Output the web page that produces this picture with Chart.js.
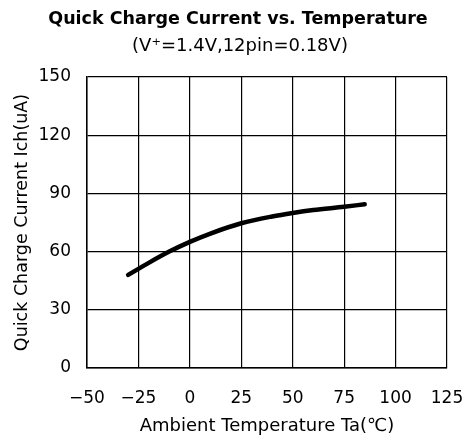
<!DOCTYPE html>
<html>
<head>
<meta charset="utf-8">
<script src="https://cdn.jsdelivr.net/npm/chart.js@4/dist/chart.umd.min.js"></script>
<style>
html,body{margin:0;padding:0;background:#fff;}
#wrap{width:473px;height:439px;position:relative;}
</style>
</head>
<body>
<div id="wrap"><canvas id="c" width="473" height="439"></canvas></div>
<script>
const titleLine1 = "Quick Charge Current vs. Temperature";
const titleLine2 = "(V\u207A=1.4V,12pin=0.18V)";
const xTitle = "Ambient Temperature Ta(\u2103)";
const yTitle = "Quick Charge Current Ich(uA)";
const temperatures = [-30, -20, -10, 0, 10, 25, 40, 50, 60, 75, 85];
const currents = [48, 54.2, 60, 65, 69.3, 74.6, 78.1, 79.9, 81.4, 83.1, 84.4];
const xTicks = [-50, -25, 0, 25, 50, 75, 100, 125];
const yTicks = [0, 30, 60, 90, 120, 150];

const FONT = "'DejaVu Sans', sans-serif";

const titlePlugin = {
  id: 'twoLineTitle',
  afterDraw(chart) {
    const ctx = chart.ctx;
    ctx.save();
    ctx.fillStyle = '#000';
    ctx.textAlign = 'center';
    ctx.textBaseline = 'middle';
    ctx.font = "bold 17.5px " + FONT;
    ctx.fillText(titleLine1, 238, 19);
    ctx.font = "18px " + FONT;
    ctx.fillText(titleLine2, 240, 46);
    ctx.restore();
  }
};

new Chart(document.getElementById('c'), {
  type: 'line',
  data: {
    datasets: [{
      data: temperatures.map((t, i) => ({x: t, y: currents[i]})),
      borderColor: '#000',
      borderWidth: 4.5,
      pointRadius: 0,
      cubicInterpolationMode: 'monotone',
      borderCapStyle: 'round',
      fill: false
    }]
  },
  plugins: [titlePlugin],
  options: {
    responsive: false,
    animation: false,
    devicePixelRatio: 1,
    layout: {padding: {left: 0, right: 26, top: 77, bottom: 0}},
    plugins: {
      legend: {display: false},
      tooltip: {enabled: false},
      title: {display: false}
    },
    scales: {
      x: {
        type: 'linear',
        min: xTicks[0], max: xTicks[xTicks.length - 1],
        afterBuildTicks: s => { s.ticks = xTicks.map(v => ({value: v})); },
        afterFit: s => { s.height = 71; s.paddingRight = 0; s.paddingLeft = 0; },
        border: {color: '#000', width: 1.5},
        grid: {color: '#000', lineWidth: 1.2, drawTicks: false},
        ticks: {color: '#000', font: {family: FONT, size: 17}, padding: 20,
                callback: v => (v < 0 ? '\u2212' + Math.abs(v) : String(v))},
        title: {display: true, text: xTitle, color: '#000',
                font: {family: FONT, size: 18}, padding: {top: 4, bottom: 2}}
      },
      y: {
        min: yTicks[0], max: yTicks[yTicks.length - 1],
        afterBuildTicks: s => { s.ticks = yTicks.map(v => ({value: v})); },
        afterFit: s => { s.width = 87; s.paddingTop = 0; s.paddingBottom = 0; },
        border: {color: '#000', width: 1.5},
        grid: {color: '#000', lineWidth: 1.2, drawTicks: false},
        ticks: {color: '#000', font: {family: FONT, size: 17}, padding: 16},
        title: {display: true, text: yTitle, color: '#000',
                font: {family: FONT, size: 17.5}, padding: {top: 12, bottom: 0}}
      }
    }
  }
});
</script>
</body>
</html>
